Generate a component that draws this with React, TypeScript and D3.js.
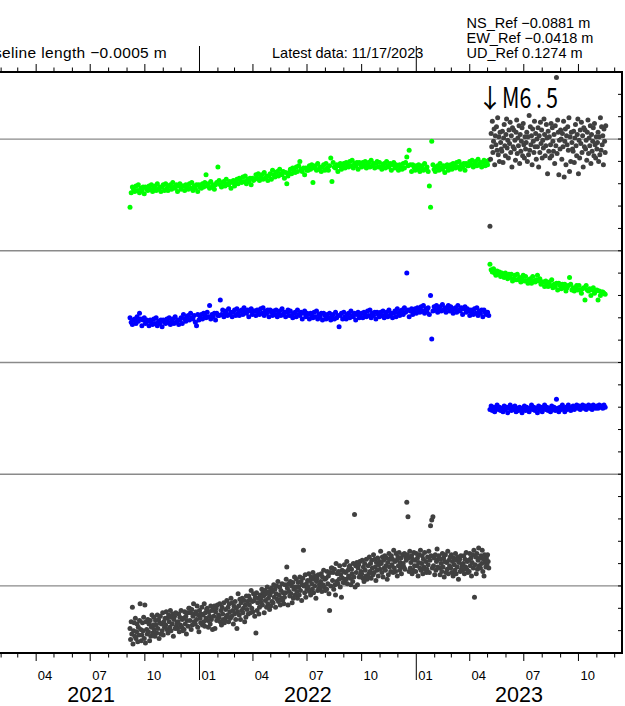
import React from 'react';
import * as d3 from 'd3';

const W = 625;
const H = 706;

// time axis
const AXIS_START = new Date(2021, 0, 1);
const AXIS_END = new Date(2023, 11, 13);
const PRE_START = new Date(2021, 8, 6);
const POST_START = new Date(2023, 4, 5);

// y values in plot units (1 tick = 20 units)
const Y_MIN = 0;
const Y_MAX = 520;
const refLines = [60, 160, 260, 360, 460];

// green, before the event (every 2 days)
const greenPre = [
  399, 412, 417, 415, 413, 418, 414, 419, 412, 416, 414, 417, 411, 417, 415,
  414, 418, 415, 419, 413, 416, 418, 414, 420, 415, 417, 413, 417, 419, 414,
  420, 416, 414, 418, 419, 415, 421, 417, 416, 419, 413, 418, 420, 415, 418,
  418, 414, 419, 417, 415, 420, 416, 421, 414, 418, 416, 419, 413, 419, 417,
  416, 420, 417, 421, 428, 418, 420, 416, 422, 417, 419, 415, 419, 421, 435,
  423, 419, 417, 421, 422, 418, 424, 420, 419, 422, 416, 421, 423, 418, 421,
  424, 420, 425, 423, 421, 426, 422, 427, 420, 424, 422, 425, 419, 425, 423,
  424, 428, 425, 429, 423, 426, 428, 424, 430, 425, 427, 423, 427, 429, 424,
  432, 428, 426, 430, 431, 427, 433, 429, 428, 431, 425, 430, 420, 427, 430,
  433, 429, 434, 432, 430, 435, 431, 436, 440, 433, 431, 434, 428, 434, 432,
  432, 436, 433, 437, 421, 434, 436, 432, 438, 433, 435, 431, 435, 437, 432,
  438, 434, 432, 436, 443, 422, 439, 435, 434, 437, 431, 436, 438, 433, 436,
  438, 434, 439, 437, 435, 440, 436, 441, 434, 438, 436, 439, 433, 439, 437,
  435, 439, 436, 440, 434, 437, 439, 435, 441, 436, 438, 434, 438, 440, 435,
  439, 435, 433, 437, 438, 434, 440, 436, 435, 438, 432, 437, 439, 434, 437,
  436, 432, 437, 435, 433, 438, 434, 439, 444, 436, 450, 437, 431, 437, 435,
  432, 436, 433, 437, 431, 434, 436, 432, 438, 433, 435, 431, 418, 399, 458,
  437, 433, 431, 435, 436, 432, 438, 434, 433, 436, 430, 435, 437, 432, 435,
  437, 433, 438, 436, 434, 439, 435, 440, 433, 437, 435, 438, 432, 438, 436,
  436, 440, 437, 441, 435, 438, 440, 436, 442, 437, 439, 435, 439, 441, 436,
  440, 437, 441,
];

// blue, before the event (every 2 days)
const bluePre = [
  300, 296, 294, 298, 299, 295, 301, 297, 304, 299, 293, 298, 300, 295, 298,
  297, 293, 298, 296, 294, 299, 295, 300, 293, 297, 295, 298, 292, 298, 296,
  295, 299, 296, 300, 294, 297, 299, 295, 301, 296, 298, 294, 298, 300, 295,
  303, 299, 297, 301, 302, 298, 304, 300, 299, 302, 296, 293, 303, 298, 301,
  303, 299, 304, 302, 300, 305, 301, 311, 299, 303, 301, 304, 298, 304, 302,
  302, 316, 303, 307, 301, 304, 306, 302, 308, 303, 305, 301, 305, 307, 302,
  308, 304, 302, 306, 307, 303, 309, 305, 304, 307, 301, 306, 308, 303, 306,
  306, 302, 307, 305, 303, 308, 304, 309, 302, 306, 304, 307, 301, 307, 305,
  302, 306, 303, 307, 301, 304, 306, 302, 308, 303, 305, 301, 305, 307, 302,
  306, 302, 300, 304, 305, 301, 307, 303, 302, 305, 299, 304, 306, 301, 304,
  303, 299, 304, 302, 300, 305, 301, 306, 299, 303, 301, 304, 298, 304, 302,
  299, 303, 300, 304, 298, 301, 303, 299, 305, 300, 302, 292, 302, 304, 299,
  305, 301, 299, 303, 304, 300, 306, 302, 301, 304, 298, 303, 305, 300, 303,
  304, 300, 305, 303, 301, 306, 302, 307, 300, 304, 302, 305, 299, 305, 303,
  301, 305, 302, 306, 300, 303, 305, 301, 307, 302, 304, 300, 304, 306, 301,
  308, 304, 302, 306, 307, 303, 309, 305, 340, 307, 301, 306, 308, 303, 306,
  308, 304, 309, 307, 305, 310, 306, 311, 304, 308, 306, 309, 303, 320, 281,
  306, 310, 307, 311, 305, 308, 310, 306, 312, 307, 309, 305, 309, 311, 306,
  310, 306, 304, 308, 309, 305, 311, 307, 306, 309, 303, 308, 310, 305, 308,
  306, 302, 307, 305, 303, 308, 304, 309, 302, 306, 304, 307, 301, 307, 305,
  303, 305, 302,
];

// dark grey, before the event (daily)
const grayPre = [
  22, 12, 28, 17, 41, 8, 20, 27, 15, 31, 13, 19, 26, 10, 23, 16, 29, 44, 21, 11,
  16, 27, 20, 32, 13, 43, 9, 28, 21, 17, 30, 19, 26, 11, 29, 15, 23, 34, 18, 25,
  32, 21, 15, 29, 25, 18, 34, 22, 30, 13, 27, 33, 17, 26, 20, 36, 16, 28, 23, 31,
  25, 37, 21, 31, 18, 34, 28, 23, 38, 20, 32, 26, 35, 15, 30, 33, 22, 36, 24, 27,
  22, 28, 35, 19, 32, 25, 38, 23, 30, 20, 31, 21, 37, 26, 33, 17, 29, 36, 24, 40,
  40, 29, 36, 21, 39, 25, 33, 44, 28, 35, 26, 37, 30, 42, 23, 34, 19, 38, 31, 27,
  35, 41, 25, 34, 28, 44, 24, 36, 31, 39, 40, 29, 23, 37, 33, 26, 42, 30, 38, 21,
  39, 33, 42, 22, 37, 40, 29, 43, 31, 34, 32, 44, 28, 38, 25, 41, 35, 30, 45, 27,
  29, 39, 32, 47, 34, 41, 28, 44, 37, 31, 49, 33, 45, 38, 26, 42, 35, 46, 30, 40,
  22, 37, 53, 42, 34, 48, 30, 45, 38, 49, 36, 40, 47, 28, 43, 32, 51, 39, 46, 35,
  51, 43, 48, 36, 56, 40, 46, 37, 53, 47, 33, 50, 18, 54, 38, 45, 49, 35, 41, 52,
  48, 45, 57, 43, 54, 51, 36, 56, 47, 53, 41, 59, 44, 49, 55, 39, 52, 42, 58, 46,
  55, 45, 61, 50, 57, 41, 53, 60, 48, 64, 46, 52, 59, 43, 56, 49, 62, 47, 54, 44,
  50, 61, 54, 66, 77, 58, 43, 62, 55, 51, 64, 53, 60, 45, 63, 49, 57, 68, 52, 59,
  66, 55, 49, 63, 59, 52, 68, 56, 64, 47, 61, 67, 92, 60, 54, 70, 50, 62, 57, 65,
  59, 71, 55, 65, 52, 68, 62, 57, 72, 54, 66, 60, 69, 49, 64, 67, 56, 70, 58, 61,
  58, 64, 71, 55, 68, 61, 74, 59, 66, 56, 67, 57, 73, 62, 69, 53, 38, 72, 60, 76,
  76, 65, 72, 57, 75, 61, 52, 80, 64, 71, 62, 73, 66, 78, 59, 70, 50, 74, 67, 63,
  73, 79, 63, 72, 66, 82, 62, 74, 69, 77, 78, 67, 61, 75, 71, 64, 80, 68, 124, 59,
  78, 72, 81, 61, 76, 79, 68, 82, 70, 73, 71, 83, 67, 77, 64, 80, 74, 69, 84, 66,
  68, 78, 71, 86, 73, 80, 67, 83, 76, 70, 88, 72, 84, 77, 65, 81, 74, 85, 69, 79,
  82, 75, 91, 80, 72, 86, 68, 83, 76, 87, 74, 78, 85, 66, 81, 70, 89, 77, 84, 73,
  87, 79, 84, 72, 92, 76, 82, 73, 89, 83, 69, 86, 78, 90, 74, 81, 85, 71, 77, 88,
  80, 77, 89, 75, 86, 83, 135, 88, 122, 85, 73, 91, 76, 81, 87, 71, 84, 74, 90, 78,
  83, 73, 89, 78, 85, 69, 81, 88, 76, 92, 74, 80, 87, 71, 84, 77, 90, 75, 82, 72,
  75, 86, 79, 91, 72, 83, 114, 87, 119, 76, 122, 78, 85, 70, 88, 74, 82, 93, 77, 84,
  87, 76, 70, 84, 80, 73, 89, 77, 85, 68, 82, 88, 72, 81, 75, 91, 71, 83, 78, 86,
  76, 88, 72, 82, 69, 85, 79, 74, 89, 71, 83, 77, 86, 66, 81, 84, 73, 87, 75, 78,
  74, 80, 87, 71, 84, 77, 90, 75, 82, 72, 83, 73, 89, 78, 85, 69, 81, 88, 76, 92,
  50, 79, 86, 71, 89, 75, 83, 94, 78, 85, 76, 87, 80, 92, 73, 84, 69, 88, 81, 77,
  85, 79, 88, 82, 76,
];

// dark grey, after the event (daily)
const grayPost = [
  382, 442, 465, 453, 476, 448, 458, 469, 437, 463, 455, 471, 450, 479, 446, 462, 440, 466, 457, 451,
  449, 467, 439, 461, 473, 454, 445, 464, 478, 452, 459, 443, 468, 456, 475, 448, 463, 435, 470, 453,
  468, 451, 459, 441, 466, 477, 447, 461, 454, 472, 438, 464, 449, 458, 470, 445, 474, 455, 443, 462,
  451, 457, 466, 440, 462, 446, 481, 450, 471, 455, 463, 437, 469, 458, 448, 476, 453, 465, 442, 460,
  453, 470, 435, 463, 448, 475, 456, 468, 443, 459, 452, 478, 464, 445, 454, 473, 461, 429, 467, 449,
  462, 443, 455, 474, 445, 470, 458, 449, 464, 438, 472, 454, 515, 447, 477, 466, 428, 459, 451, 468,
  460, 442, 465, 453, 476, 426, 458, 469, 437, 463, 455, 471, 450, 479, 431, 462, 440, 466, 457, 451,
  449, 467, 439, 461, 473, 454, 445, 464, 478, 429, 459, 443, 468, 456, 475, 448, 463, 435, 470, 453,
  468, 451, 459, 441, 466, 477, 447, 461, 454, 472, 438, 464, 449, 458, 470, 445, 474, 455, 443, 462,
  451, 457, 466, 440, 462, 446, 479, 450, 471, 455, 463, 437, 469, 458, 448, 472,
];

// green, after the event (every 2 days)
const greenPost = [
  348, 343, 341, 344, 340, 338, 342, 339, 341, 337, 340, 338, 336, 340, 337,
  335, 339, 336, 339, 333, 335, 338, 334, 339, 334, 336, 332, 335, 338, 333,
  337, 333, 331, 334, 335, 331, 337, 333, 332, 334, 338, 333, 335, 330, 332,
  332, 328, 333, 331, 328, 332, 329, 334, 327, 330, 328, 331, 325, 331, 329,
  326, 330, 327, 330, 324, 327, 329, 336, 330, 325, 327, 324, 327, 329, 325,
  329, 325, 322, 326, 327, 316, 329, 325, 324, 326, 320, 325, 327, 322, 324,
  325, 316, 324, 320, 323, 323, 322, 321,
];

// blue, after the event (every 2 days)
const bluePost = [
  218, 221, 217, 220, 216, 219, 222, 218, 220, 217, 219, 216, 221, 218, 220,
  215, 219, 222, 217, 220, 218, 221, 216, 219, 217, 220, 218, 215, 219, 221,
  217, 220, 218, 216, 219, 222, 218, 220, 217, 219, 215, 221, 218, 220, 216,
  219, 222, 218, 220, 217, 219, 216, 221, 218, 220, 217, 227, 219, 216, 220,
  218, 222, 219, 216, 220, 218, 222, 219, 217, 220, 221, 218, 220, 222, 219,
  221, 218, 220, 222, 219, 221, 218, 220, 222, 219, 221, 218, 222, 220, 219,
  221, 219, 222, 220, 221, 219, 222, 220,
];

const GRAY = '#404040';
const GREEN = '#00ff00';
const BLUE = '#0000ff';

const series = [
  { name: 'greenPre', values: greenPre, start: PRE_START, step: 2, color: GREEN },
  { name: 'bluePre', values: bluePre, start: PRE_START, step: 2, color: BLUE },
  { name: 'grayPre', values: grayPre, start: PRE_START, step: 1, color: GRAY },
  { name: 'grayPost', values: grayPost, start: POST_START, step: 1, color: GRAY },
  { name: 'greenPost', values: greenPost, start: POST_START, step: 2, color: GREEN },
  { name: 'bluePost', values: bluePost, start: POST_START, step: 2, color: BLUE },
];

const headerLeft = 'Baseline length \u22120.0005 m';
const headerMid = 'Latest data: 11/17/2023';
const refTexts = ['NS_Ref \u22120.0881 m', 'EW_Ref \u22120.0418 m', 'UD_Ref 0.1274 m'];

const FRAME = { left: -20, right: 622, top: 72, bottom: 653 };

export default function App() {
  const x = d3.scaleTime().domain([AXIS_START, AXIS_END]).range([-17.3, 621.8]);
  const y = d3.scaleLinear().domain([Y_MIN, Y_MAX]).range([FRAME.bottom, FRAME.top]);
  const months = d3.timeMonth.range(AXIS_START, AXIS_END);
  const years = d3.timeYear.range(AXIS_START, AXIS_END);
  const fmtM = d3.timeFormat('%m');
  const fmtY = d3.timeFormat('%Y');
  const xMin = x(AXIS_START);
  const xMax = x(AXIS_END);
  const yTicks = d3.range(Y_MIN + 20, Y_MAX, 20);
  const font = "'Liberation Sans', Arial, Helvetica, sans-serif";
  const evX = x(POST_START);

  return (
    <svg width={W} height={H} style={{ position: 'absolute', left: 0, top: 0, background: '#fff' }}
      xmlns="http://www.w3.org/2000/svg">
      <rect x={0} y={0} width={W} height={H} fill="#fff" />
      {refLines.map((v) => (
        <line key={'r' + v} x1={0} x2={FRAME.right} y1={y(v)} y2={y(v)} stroke="#8a8a8a" strokeWidth={1.3} />
      ))}
      {series.map((s) =>
        s.values.map((v, i) => (
          <circle key={s.name + i} cx={x(d3.timeDay.offset(s.start, i * s.step))} cy={y(v)} r={2.5} fill={s.color} />
        ))
      )}
      {yTicks.map((v) => (
        <line key={'yt' + v} x1={FRAME.right - 4} x2={FRAME.right} y1={y(v)} y2={y(v)} stroke="#000" strokeWidth={1} />
      ))}
      <rect x={FRAME.left} y={FRAME.top} width={FRAME.right - FRAME.left} height={FRAME.bottom - FRAME.top}
        fill="none" stroke="#000" strokeWidth={2} />
      {months.map((m) => {
        const mx = x(m);
        const mo = m.getMonth();
        const isYear = mo === 0;
        const isMajor = mo % 3 === 0;
        const lenTop = isYear ? 26 : isMajor ? 8 : 4.5;
        const lenBot = isYear ? 27 : isMajor ? 8 : 4.5;
        return (
          <g key={'m' + m.getTime()}>
            <line x1={mx} x2={mx} y1={FRAME.top} y2={FRAME.top - lenTop} stroke="#000" strokeWidth={1} />
            <line x1={mx} x2={mx} y1={FRAME.bottom} y2={FRAME.bottom + lenBot} stroke="#000" strokeWidth={1} />
          </g>
        );
      })}
      {months.filter((m) => m.getMonth() % 3 === 0).map((m) => {
        const cx = (x(m) + x(d3.timeMonth.offset(m, 1))) / 2;
        if (cx < 8) return null;
        return (
          <text key={'ml' + m.getTime()} x={cx} y={680} textAnchor="middle" fontFamily={font} fontSize={13} fill="#000">
            {fmtM(m)}
          </text>
        );
      })}
      {years.map((yr) => {
        const a = Math.max(x(yr), xMin);
        const b = Math.min(x(d3.timeYear.offset(yr, 1)), xMax);
        return (
          <text key={'yl' + yr.getTime()} x={(a + b) / 2} y={701.5} textAnchor="middle" fontFamily={font} fontSize={21.5} fill="#000">
            {fmtY(yr)}
          </text>
        );
      })}
      <text x={167} y={58} textAnchor="end" fontFamily={font} fontSize={15.5} letterSpacing={0.35} fill="#000">{headerLeft}</text>
      <text x={272} y={58} fontFamily={font} fontSize={14.5} fill="#000">{headerMid}</text>
      {refTexts.map((t, i) => (
        <text key={t} x={466.5} y={27.5 + i * 15.35} fontFamily={font} fontSize={14.5} fill="#000">{t}</text>
      ))}
      <text x={evX} y={108} textAnchor="middle" fontFamily="'Noto Sans CJK JP', sans-serif" fontSize={26} fill="#000">{'\u2193'}</text>
      <g transform={`translate(502,108.3) scale(0.77,1)`}>
        <text x={0} y={0} fontFamily="'Noto Sans CJK JP', sans-serif" fontSize={28} fill="#000">
          <tspan>M6</tspan><tspan dx={6}>.</tspan><tspan dx={5}>5</tspan>
        </text>
      </g>
    </svg>
  );
}
